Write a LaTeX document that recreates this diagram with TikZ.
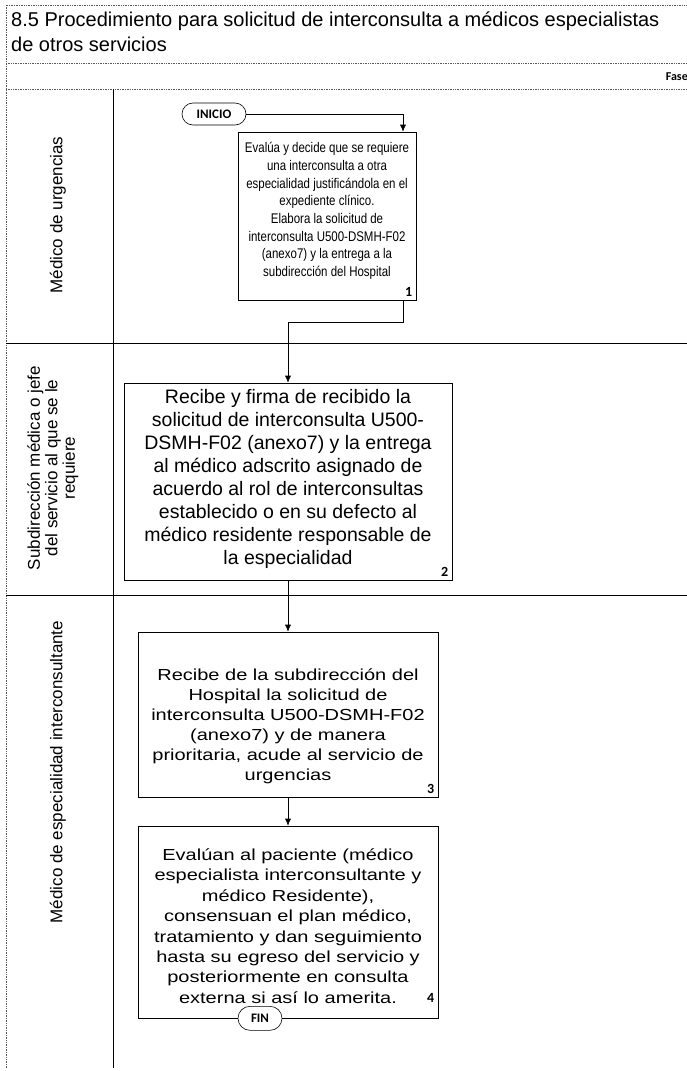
\documentclass[tikz,border=0pt]{standalone}
\usepackage{fontspec}
\setmainfont{Liberation Sans}
\newfontfamily\narrowfont[FakeStretch=0.82]{Liberation Sans}
\newfontfamily\widefont[FakeStretch=1.25]{Liberation Sans}
\newfontfamily\calfont{Carlito}
\usetikzlibrary{shapes.misc,arrows.meta}

\begin{document}
\begin{tikzpicture}[
        x=1pt, y=-1pt,
        >={Latex[length=7pt,width=6pt]},
        frame/.style = {draw=black!65, densely dotted, line width=0.7pt},
        sep/.style = {draw=black, line width=0.7pt},
        box/.style = {draw, line width=0.6pt, inner sep=0pt},
        pill/.style = {draw, rounded rectangle, line width=0.6pt, inner sep=0pt,
            fill=white, font=\calfont\bfseries\fontsize{13}{15}\selectfont},
        lane/.style = {rotate=90, align=center, font=\fontsize{17}{17.5}\selectfont},
        num/.style = {anchor=south east, inner sep=4pt,
            font=\calfont\bfseries\fontsize{14}{16}\selectfont}
    ]
        \useasboundingbox (0,0) rectangle (686,1071);

        % marco
        \draw[frame] (6,1068) -- (6,5) -- (690,5);
        \draw[frame] (6,63) -- (690,63);
        \draw[frame] (6,89) -- (690,89);
        \draw[sep] (113,89) -- (113,1068);
        \draw[sep] (6,343) -- (690,343);
        \draw[sep] (6,595) -- (690,595);

        \node[anchor=north west, align=left, inner sep=0pt,
            font=\fontsize{20}{25}\selectfont] (title) at (11,12)
            {8.5 Procedimiento para solicitud de interconsulta a médicos especialistas\\de otros servicios};
        \node[anchor=east, inner sep=0pt, font=\calfont\bfseries\fontsize{12}{14}\selectfont] (fase) at (688,77) {Fase};

        % carriles
        \node[lane] (L1) at (58,215) {Médico de urgencias};
        \node[lane] (L2) at (53,468) {Subdirección médica o jefe\\del servicio al que se le\\requiere};
        \node[lane] (L3) at (58,772) {Médico de especialidad interconsultante};

        % actividades
        \node[box, minimum width=178pt, minimum height=168pt] (B1) at (327,216) {};
        \node[align=center, font=\narrowfont\fontsize{14}{17.7}\selectfont] (T1) at (327,211)
            {Evalúa y decide que se requiere\\una interconsulta a otra\\especialidad justificándola en el\\expediente clínico.\\Elabora la solicitud de\\interconsulta U500-DSMH-F02\\(anexo7) y la entrega a la\\subdirección del Hospital};
        \node[num] (N1) at (B1.south east) {1};

        \node[box, minimum width=328pt, minimum height=197pt] (B2) at (288,481.5) {};
        \node[align=center, font=\fontsize{19.5}{23}\selectfont] (T2) at (288,479)
            {Recibe y firma de recibido la\\solicitud de interconsulta U500-\\DSMH-F02 (anexo7) y la entrega\\al médico adscrito asignado de\\acuerdo al rol de interconsultas\\establecido o en su defecto al\\médico residente responsable de\\la especialidad};
        \node[num] (N2) at (B2.south east) {2};

        \node[box, minimum width=300pt, minimum height=165pt] (B3) at (288,714.5) {};
        \node[align=center, font=\widefont\fontsize{16}{20}\selectfont] (T3) at (288,726)
            {Recibe de la subdirección del\\Hospital la solicitud de\\interconsulta U500-DSMH-F02\\(anexo7) y de manera\\prioritaria, acude al servicio de\\urgencias};
        \node[num] (N3) at (B3.south east) {3};

        \node[box, minimum width=300pt, minimum height=192pt] (B4) at (288,922) {};
        \node[align=center, font=\widefont\fontsize{16}{20.4}\selectfont] (T4) at (288,926)
            {Evalúan al paciente (médico\\especialista interconsultante y\\médico Residente),\\consensuan el plan médico,\\tratamiento y dan seguimiento\\hasta su egreso del servicio y\\posteriormente en consulta\\externa si así lo amerita.};
        \node[num] (N4) at ([yshift=12pt]B4.south east) {4};

        % inicio y fin
        \node[pill, minimum width=64pt, minimum height=22pt] (ini) at (214,114) {INICIO};
        \node[pill, minimum width=44pt, minimum height=24pt] (fin) at ([xshift=-28pt]B4.south) {FIN};

        % flujo
        \draw[->, line width=0.6pt] (ini.east) -| ([xshift=76pt]B1.north);
        \draw[->, line width=0.6pt] ([xshift=76pt]B1.south) -- ++(0,22) -| (B2.north);
        \draw[->, line width=0.6pt] (B2) -- (B3);
        \draw[->, line width=0.6pt] (B3) -- (B4);
    \end{tikzpicture}
\end{document}
